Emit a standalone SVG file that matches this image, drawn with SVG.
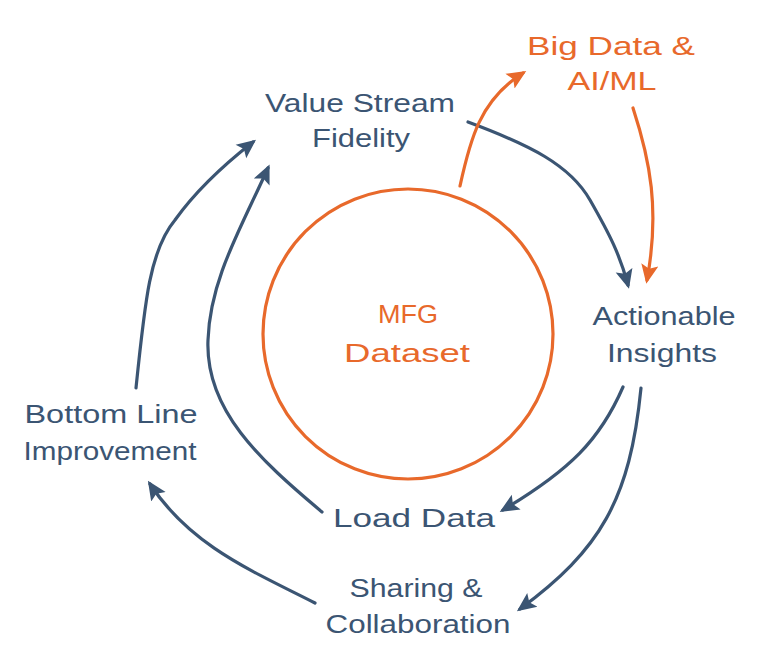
<svg xmlns="http://www.w3.org/2000/svg" width="769" height="667" viewBox="0 0 769 667">
<defs>
<style>
.t{font-family:"Liberation Sans","Noto Sans",sans-serif;font-size:26px;}
.b{fill:#3b5573;}
.o{fill:#e8692b;}
.cb{fill:none;stroke:#3b5573;stroke-width:3.2;stroke-linecap:round;}
.co{fill:none;stroke:#e8692b;stroke-width:3.2;stroke-linecap:round;}
</style>
<marker id="ab" viewBox="0 0 10 10" refX="8" refY="5" markerWidth="6" markerHeight="6" orient="auto" markerUnits="strokeWidth">
<path d="M0,0.5 L10,5 L0,9.5 L2,5 Z" fill="#3b5573"/>
</marker>
<marker id="ao" viewBox="0 0 10 10" refX="8" refY="5" markerWidth="6" markerHeight="6" orient="auto" markerUnits="strokeWidth">
<path d="M0,0.5 L10,5 L0,9.5 L2,5 Z" fill="#e8692b"/>
</marker>
</defs>
<rect width="769" height="667" fill="#ffffff"/>
<g id="connectors">
<path class="cb" d="M468,122 C530,145 570,165 590,200 S620,255 628,285" marker-end="url(#ab)"/>
<path class="co" d="M460,186 C470,140 480,100 523,73" marker-end="url(#ao)"/>
<path class="co" d="M633,108 C650,160 660,210 647,280" marker-end="url(#ao)"/>
<path class="cb" d="M623,387 C600,440 570,470 503,510" marker-end="url(#ab)"/>
<path class="cb" d="M641,388 C630,500 600,550 520,609" marker-end="url(#ab)"/>
<path class="cb" d="M315,603 C250,570 190,545 150,484" marker-end="url(#ab)"/>
<path class="cb" d="M136,388 C145,300 150,250 175,220 C200,185 230,160 253,142" marker-end="url(#ab)"/>
<path class="cb" d="M322,512 C260,460 205,410 208,340 C210,280 240,230 268,168" marker-end="url(#ab)"/>
</g>
<g id="mfg-dataset">
<circle cx="408" cy="334" r="145" fill="none" stroke="#e8692b" stroke-width="3.2"/>
<text class="t o" x="408" y="323" text-anchor="middle" textLength="60" lengthAdjust="spacingAndGlyphs">MFG</text>
<text class="t o" x="407" y="362" text-anchor="middle" textLength="126" lengthAdjust="spacingAndGlyphs">Dataset</text>
</g>
<g id="big-data">
<text class="t o" x="611" y="55" text-anchor="middle" textLength="168" lengthAdjust="spacingAndGlyphs">Big Data &amp;</text>
<text class="t o" x="612" y="90" text-anchor="middle" textLength="89" lengthAdjust="spacingAndGlyphs">AI/ML</text>
</g>
<g id="value-stream">
<text class="t b" x="360" y="112" text-anchor="middle" textLength="190" lengthAdjust="spacingAndGlyphs">Value Stream</text>
<text class="t b" x="361" y="147" text-anchor="middle" textLength="98" lengthAdjust="spacingAndGlyphs">Fidelity</text>
</g>
<g id="actionable-insights">
<text class="t b" x="664" y="325" text-anchor="middle" textLength="143" lengthAdjust="spacingAndGlyphs">Actionable</text>
<text class="t b" x="662" y="362" text-anchor="middle" textLength="110" lengthAdjust="spacingAndGlyphs">Insights</text>
</g>
<g id="load-data">
<text class="t b" x="414" y="527" text-anchor="middle" textLength="162" lengthAdjust="spacingAndGlyphs">Load Data</text>
</g>
<g id="sharing">
<text class="t b" x="416" y="597" text-anchor="middle" textLength="133" lengthAdjust="spacingAndGlyphs">Sharing &amp;</text>
<text class="t b" x="418" y="633" text-anchor="middle" textLength="185" lengthAdjust="spacingAndGlyphs">Collaboration</text>
</g>
<g id="bottom-line">
<text class="t b" x="111" y="423" text-anchor="middle" textLength="173" lengthAdjust="spacingAndGlyphs">Bottom Line</text>
<text class="t b" x="110" y="460" text-anchor="middle" textLength="173" lengthAdjust="spacingAndGlyphs">Improvement</text>
</g>
</svg>
